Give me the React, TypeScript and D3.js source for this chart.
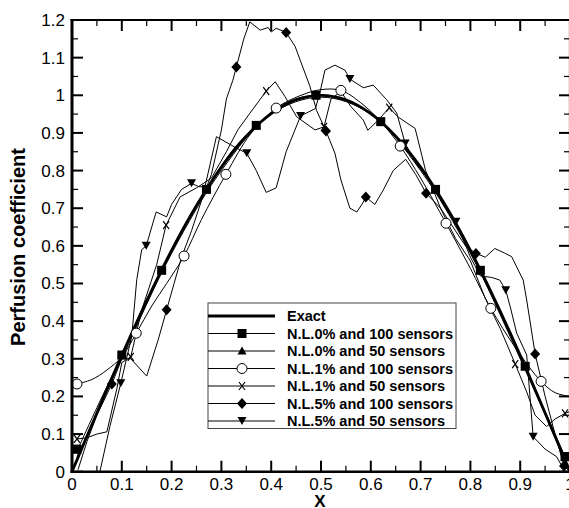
import React from "react";
import * as d3 from "d3";

// ---------- data ----------
const xTicks = [0, 0.1, 0.2, 0.3, 0.4, 0.5, 0.6, 0.7, 0.8, 0.9, 1];
const xTickLabels = ["0", "0.1", "0.2", "0.3", "0.4", "0.5", "0.6", "0.7", "0.8", "0.9", "1"];
const yTicks = [0, 0.1, 0.2, 0.3, 0.4, 0.5, 0.6, 0.7, 0.8, 0.9, 1, 1.1, 1.2];
const yTickLabels = ["0", "0.1", "0.2", "0.3", "0.4", "0.5", "0.6", "0.7", "0.8", "0.9", "1", "1.1", "1.2"];

const legendLabels = [
  "Exact",
  "N.L.0% and 100 sensors",
  "N.L.0% and 50 sensors",
  "N.L.1% and 100 sensors",
  "N.L.1% and 50 sensors",
  "N.L.5% and 100 sensors",
  "N.L.5% and 50 sensors",
];

const exactPts: [number, number][] = [
  [0, 0], [0.05, 0.156], [0.1, 0.309], [0.15, 0.454], [0.2, 0.588], [0.25, 0.707],
  [0.3, 0.809], [0.35, 0.891], [0.4, 0.951], [0.45, 0.988], [0.5, 1.0], [0.55, 0.988],
  [0.6, 0.951], [0.65, 0.891], [0.7, 0.809], [0.75, 0.707], [0.8, 0.588], [0.85, 0.454],
  [0.9, 0.309], [0.95, 0.156], [1, 0],
];

const nl0_100: [number, number][] = [
  [0.01, 0.055], [0.05, 0.17], [0.1, 0.31], [0.14, 0.43], [0.18, 0.535], [0.22, 0.64],
  [0.27, 0.75], [0.32, 0.85], [0.37, 0.92], [0.43, 0.98], [0.49, 1.0], [0.55, 0.985],
  [0.62, 0.93], [0.68, 0.84], [0.73, 0.75], [0.78, 0.64], [0.82, 0.535], [0.87, 0.4],
  [0.91, 0.28], [0.95, 0.16], [0.99, 0.04],
];
const nl0_100Markers: [number, number][] = [
  [0.01, 0.06], [0.1, 0.31], [0.18, 0.535], [0.27, 0.75], [0.37, 0.92], [0.49, 1.0],
  [0.62, 0.93], [0.73, 0.75], [0.82, 0.535], [0.91, 0.28], [0.99, 0.04],
];

const nl0_50: [number, number][] = [
  [0.01, 0.04], [0.1, 0.3], [0.2, 0.58], [0.3, 0.8], [0.4, 0.95], [0.5, 0.995],
  [0.6, 0.95], [0.7, 0.8], [0.8, 0.58], [0.9, 0.3], [0.99, 0.03],
];
const nl0_50Markers: [number, number][] = [
  [0.01, 0.06], [0.1, 0.31], [0.18, 0.535], [0.27, 0.75], [0.37, 0.92], [0.49, 1.0],
  [0.62, 0.93], [0.73, 0.75], [0.82, 0.535], [0.91, 0.28], [0.99, 0.04],
];

const nl1_100: [number, number][] = [
  [0.01, 0.233], [0.04, 0.245], [0.07, 0.27], [0.1, 0.305], [0.129, 0.368], [0.16, 0.44],
  [0.19, 0.5], [0.225, 0.573], [0.26, 0.67], [0.309, 0.79], [0.36, 0.9], [0.41, 0.966],
  [0.46, 1.0], [0.5, 1.015], [0.54, 1.013], [0.58, 0.98], [0.62, 0.93], [0.659, 0.865],
  [0.7, 0.78], [0.751, 0.66], [0.8, 0.54], [0.841, 0.434], [0.89, 0.33], [0.942, 0.24],
  [0.97, 0.21], [1.0, 0.2],
];
const nl1_100Markers: [number, number][] = [
  [0.01, 0.233], [0.129, 0.368], [0.225, 0.573], [0.309, 0.79], [0.41, 0.966], [0.54, 1.013],
  [0.659, 0.865], [0.751, 0.66], [0.841, 0.434], [0.942, 0.24],
];

const nl1_50: [number, number][] = [
  [0.01, 0.087], [0.03, 0.09], [0.05, 0.1], [0.07, 0.106], [0.09, 0.22], [0.1, 0.29],
  [0.118, 0.305], [0.14, 0.43], [0.17, 0.55], [0.189, 0.655], [0.217, 0.73], [0.25, 0.754],
  [0.28, 0.78], [0.31, 0.85], [0.333, 0.908], [0.357, 0.952], [0.39, 1.011], [0.408, 1.036],
  [0.428, 0.996], [0.451, 0.943], [0.488, 0.908], [0.506, 0.916], [0.52, 0.99], [0.54, 1.01],
  [0.56, 0.97], [0.585, 0.934], [0.594, 0.907], [0.615, 0.934], [0.637, 0.967], [0.655, 0.942],
  [0.689, 0.912], [0.71, 0.8], [0.74, 0.7], [0.77, 0.62], [0.8, 0.56], [0.83, 0.46],
  [0.86, 0.38], [0.89, 0.286], [0.913, 0.212], [0.93, 0.15], [0.953, 0.12], [0.97, 0.14],
  [0.99, 0.155], [1.0, 0.16],
];
const nl1_50Markers: [number, number][] = [
  [0.01, 0.087], [0.118, 0.305], [0.189, 0.655], [0.39, 1.011], [0.506, 0.916], [0.637, 0.967],
  [0.89, 0.286], [0.99, 0.155],
];

const nl5_100: [number, number][] = [
  [0.012, 0.005], [0.03, 0.08], [0.05, 0.15], [0.08, 0.233], [0.1, 0.3], [0.118, 0.3],
  [0.15, 0.254], [0.173, 0.35], [0.19, 0.43], [0.205, 0.5], [0.22, 0.57], [0.24, 0.64],
  [0.26, 0.72], [0.28, 0.79], [0.3, 0.908], [0.31, 0.99], [0.323, 1.04], [0.33, 1.075],
  [0.345, 1.15], [0.357, 1.195], [0.378, 1.173], [0.394, 1.18], [0.4, 1.168], [0.41, 1.178],
  [0.43, 1.167], [0.448, 1.13], [0.458, 1.094], [0.478, 1.023], [0.491, 0.96], [0.51, 0.905],
  [0.528, 0.846], [0.54, 0.775], [0.558, 0.7], [0.572, 0.69], [0.584, 0.714], [0.59, 0.73],
  [0.608, 0.71], [0.625, 0.748], [0.645, 0.8], [0.67, 0.83], [0.69, 0.79], [0.711, 0.74],
  [0.74, 0.7], [0.77, 0.64], [0.79, 0.6], [0.811, 0.58], [0.83, 0.57], [0.849, 0.593],
  [0.87, 0.58], [0.883, 0.571], [0.906, 0.509], [0.913, 0.456], [0.93, 0.313], [0.95, 0.2],
  [0.97, 0.1], [0.988, 0.015], [1.0, 0.0],
];
const nl5_100Markers: [number, number][] = [
  [0.08, 0.233], [0.19, 0.43], [0.33, 1.075], [0.43, 1.167], [0.51, 0.905], [0.59, 0.73],
  [0.711, 0.74], [0.811, 0.58], [0.93, 0.313], [0.988, 0.015],
];

const nl5_50: [number, number][] = [
  [0.056, 0.0], [0.076, 0.12], [0.098, 0.235], [0.12, 0.36], [0.13, 0.51], [0.14, 0.59],
  [0.149, 0.6], [0.169, 0.69], [0.19, 0.677], [0.2, 0.71], [0.22, 0.75], [0.24, 0.766],
  [0.255, 0.757], [0.267, 0.757], [0.29, 0.89], [0.33, 0.86], [0.351, 0.846], [0.37, 0.8],
  [0.39, 0.742], [0.41, 0.754], [0.43, 0.85], [0.459, 0.945], [0.489, 0.965], [0.5, 1.02],
  [0.508, 1.067], [0.528, 1.08], [0.548, 1.067], [0.558, 1.043], [0.585, 1.02], [0.605, 1.027],
  [0.632, 0.988], [0.652, 0.953], [0.669, 0.872], [0.69, 0.82], [0.72, 0.77], [0.75, 0.7],
  [0.771, 0.664], [0.8, 0.57], [0.82, 0.52], [0.843, 0.516], [0.859, 0.509], [0.871, 0.482],
  [0.88, 0.438], [0.893, 0.368], [0.913, 0.31], [0.926, 0.093], [0.95, 0.06], [0.973, 0.04],
  [0.99, 0.0],
];
const nl5_50Markers: [number, number][] = [
  [0.098, 0.235], [0.149, 0.6], [0.24, 0.766], [0.351, 0.846], [0.459, 0.945], [0.558, 1.043],
  [0.669, 0.872], [0.771, 0.664], [0.871, 0.482], [0.926, 0.093],
];

// ---------- layout ----------
const W = 569;
const H = 508;
const X0 = 72;
const X1 = 570;
const Y0 = 471.7;
const Y1 = 20;
const FONT = "'Liberation Sans', Arial, Helvetica, sans-serif";

type MarkerKind = "square" | "triUp" | "circle" | "x" | "diamond" | "triDown" | "none";

function Marker({ kind, cx, cy }: { kind: MarkerKind; cx: number; cy: number }) {
  switch (kind) {
    case "square":
      return <rect x={cx - 4.5} y={cy - 4.5} width={9} height={9} fill="#000" />;
    case "triUp":
      return <path d={`M${cx},${cy - 4.5}L${cx + 4.5},${cy + 3.5}L${cx - 4.5},${cy + 3.5}Z`} fill="#000" />;
    case "triDown":
      return <path d={`M${cx - 4.5},${cy - 4}L${cx + 4.5},${cy - 4}L${cx},${cy + 4}Z`} fill="#000" />;
    case "diamond":
      return <path d={`M${cx},${cy - 5.5}L${cx + 5},${cy}L${cx},${cy + 5.5}L${cx - 5},${cy}Z`} fill="#000" />;
    case "circle":
      return <circle cx={cx} cy={cy} r={5} fill="#fff" stroke="#000" strokeWidth={1} />;
    case "x":
      return (
        <path
          d={`M${cx - 3},${cy - 4}L${cx + 3},${cy + 4}M${cx + 3},${cy - 4}L${cx - 3},${cy + 4}`}
          stroke="#000"
          strokeWidth={1.2}
          fill="none"
        />
      );
    default:
      return null;
  }
}

export default function App() {
  const x = d3.scaleLinear().domain([0, 1]).range([X0, X1]);
  const y = d3.scaleLinear().domain([0, 1.2]).range([Y0, Y1]);

  const lineSmooth = d3
    .line<[number, number]>()
    .x((d) => x(d[0]))
    .y((d) => y(d[1]))
    .curve(d3.curveCatmullRom.alpha(0.5));
  const lineStraight = d3
    .line<[number, number]>()
    .x((d) => x(d[0]))
    .y((d) => y(d[1]));

  const series: { pts: [number, number][]; markers: [number, number][]; kind: MarkerKind; smooth: boolean }[] = [
    { pts: nl5_100, markers: nl5_100Markers, kind: "diamond", smooth: false },
    { pts: nl5_50, markers: nl5_50Markers, kind: "triDown", smooth: false },
    { pts: nl1_50, markers: nl1_50Markers, kind: "x", smooth: false },
    { pts: nl1_100, markers: nl1_100Markers, kind: "circle", smooth: true },
    { pts: nl0_50, markers: nl0_50Markers, kind: "triUp", smooth: true },
    { pts: nl0_100, markers: nl0_100Markers, kind: "square", smooth: true },
  ];

  const xMinor = d3.range(0.05, 1, 0.1);
  const yMinor = d3.range(0.05, 1.2, 0.1);
  const majLen = 11;
  const minLen = 6;

  const legendKinds: MarkerKind[] = ["none", "square", "triUp", "circle", "x", "diamond", "triDown"];
  const LX0 = 208;
  const LX1 = 456;
  const LY0 = 303;
  const LY1 = 428.5;
  const rowY = (i: number) => 316 + i * 17.5;

  return (
    <svg
      width={W}
      height={H}
      style={{ position: "absolute", left: 0, top: 0, background: "#fff" }}
      fontFamily={FONT}
    >
      <rect x={0} y={0} width={W} height={H} fill="#fff" />
      <defs>
        <clipPath id="plotclip">
          <rect x={X0} y={Y1} width={X1 - X0} height={Y0 - Y1} />
        </clipPath>
      </defs>

      {/* series lines */}
      <g clipPath="url(#plotclip)">
        {series.map((s, i) => (
          <path
            key={"l" + i}
            d={(s.smooth ? lineSmooth : lineStraight)(s.pts) || ""}
            fill="none"
            stroke="#000"
            strokeWidth={1}
          />
        ))}
        <path d={lineSmooth(exactPts) || ""} fill="none" stroke="#000" strokeWidth={2.8} />
      </g>
      {/* markers */}
      <g>
        {series.map((s, i) =>
          s.markers.map((m, j) => <Marker key={`m${i}-${j}`} kind={s.kind} cx={x(m[0])} cy={y(m[1])} />)
        )}
      </g>

      {/* axes frame */}
      <line x1={X0} x2={X0} y1={Y1 - 1} y2={Y0 + 1.2} stroke="#000" strokeWidth={3} />
      <line x1={X0 - 1.5} x2={X1} y1={Y0} y2={Y0} stroke="#000" strokeWidth={2.6} />
      <line x1={X0 - 1.5} x2={X1} y1={Y1} y2={Y1} stroke="#000" strokeWidth={2.2} />
      <line x1={X1} x2={X1} y1={Y1} y2={Y0} stroke="#000" strokeWidth={2.2} />

      {/* x ticks */}
      {xTicks.map((t, i) => (
        <g key={"xt" + i}>
          <line x1={x(t)} x2={x(t)} y1={Y0} y2={Y0 - majLen} stroke="#000" strokeWidth={2} />
          <line x1={x(t)} x2={x(t)} y1={Y1} y2={Y1 + majLen} stroke="#000" strokeWidth={2} />
          <text x={x(t)} y={490} fontSize={17} textAnchor="middle" fill="#000">
            {xTickLabels[i]}
          </text>
        </g>
      ))}
      {xMinor.map((t, i) => (
        <g key={"xm" + i}>
          <line x1={x(t)} x2={x(t)} y1={Y0} y2={Y0 - minLen} stroke="#000" strokeWidth={1.2} />
          <line x1={x(t)} x2={x(t)} y1={Y1} y2={Y1 + minLen} stroke="#000" strokeWidth={1.2} />
        </g>
      ))}
      {/* y ticks */}
      {yTicks.map((t, i) => (
        <g key={"yt" + i}>
          <line x1={X0} x2={X0 + majLen} y1={y(t)} y2={y(t)} stroke="#000" strokeWidth={2} />
          <line x1={X1} x2={X1 - majLen} y1={y(t)} y2={y(t)} stroke="#000" strokeWidth={2} />
          <text x={65} y={y(t) + 6} fontSize={17} textAnchor="end" fill="#000">
            {yTickLabels[i]}
          </text>
        </g>
      ))}
      {yMinor.map((t, i) => (
        <g key={"ym" + i}>
          <line x1={X0} x2={X0 + minLen} y1={y(t)} y2={y(t)} stroke="#000" strokeWidth={1.2} />
          <line x1={X1} x2={X1 - minLen} y1={y(t)} y2={y(t)} stroke="#000" strokeWidth={1.2} />
        </g>
      ))}

      {/* axis titles */}
      <text x={320} y={507} fontSize={17} fontWeight="bold" textAnchor="middle" fill="#000">
        X
      </text>
      <text
        transform={`translate(25,${247}) rotate(-90)`}
        fontSize={20}
        fontWeight="bold"
        textAnchor="middle"
        fill="#000"
      >
        Perfusion coefficient
      </text>

      {/* legend */}
      <rect x={LX0} y={LY0} width={LX1 - LX0} height={LY1 - LY0} fill="#fff" stroke="#444" strokeWidth={1} />
      {legendLabels.map((lab, i) => (
        <g key={"lg" + i}>
          <line
            x1={LX0}
            x2={275}
            y1={rowY(i)}
            y2={rowY(i)}
            stroke="#000"
            strokeWidth={i === 0 ? 2.8 : 1}
          />
          <Marker kind={legendKinds[i]} cx={242} cy={rowY(i)} />
          <text x={287} y={rowY(i) + 5} fontSize={14.5} fontWeight="bold" fill="#000">
            {lab}
          </text>
        </g>
      ))}
    </svg>
  );
}
